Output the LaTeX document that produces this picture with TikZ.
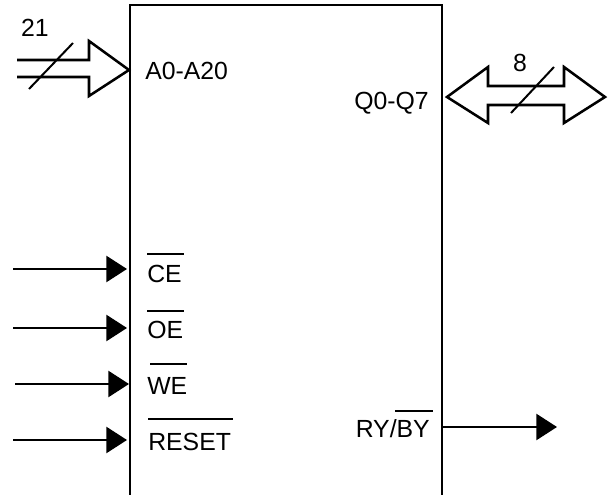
\documentclass[tikz,border=0pt]{standalone}
\usepackage{fontspec}
\setmainfont{Liberation Sans}
\usetikzlibrary{arrows.meta}

\tikzset{
    pinlabel/.style={inner sep=0pt, font=\fontsize{18.6}{22}\selectfont},
    sig/.style={line width=1.9pt, -{Triangle[length=15.5pt, width=19.5pt]}},
    bus/.style={line width=1.9pt, line join=miter},
    slash/.style={line width=1.5pt},
    bar/.style={line width=1.6pt}
}

\begin{document}
\begin{tikzpicture}[x=0.75pt, y=-0.75pt]
        \useasboundingbox (0, 0) rectangle (615, 495);

        % chip outline, runs off the bottom
        \coordinate (chipbl) at (130, 495);
        \coordinate (chiptl) at (130, 5);
        \coordinate (chiptr) at (442, 5);
        \coordinate (chipbr) at (442, 495);
        \draw[line width=1.9pt] (chipbl) to (chiptl) to (chiptr) to (chipbr);

        \node[pinlabel, anchor=base west] (addr) at (145, 80) {A0-A20};
        \node[pinlabel, anchor=base east] (data) at (429, 110) {Q0-Q7};
        \node[pinlabel, anchor=base west] (ce) at (147, 283) {CE};
        \node[pinlabel, anchor=base west] (oe) at (147, 339) {OE};
        \node[pinlabel, anchor=base west] (we) at (147, 395) {WE};
        \node[pinlabel, anchor=base west] (reset) at (148, 451) {RESET};
        \node[pinlabel, anchor=base east] (ryby) at (430, 438) {RY/BY};
        \node[pinlabel, anchor=base] (addrwidth) at (35, 37) {21};
        \node[pinlabel, anchor=base] (datawidth) at (520, 72) {8};

        % bars over the active low pins
        \draw[bar] (147, 254) to (184, 254);
        \draw[bar] (147, 311) to (184, 311);
        \draw[bar] (150, 364) to (187, 364);
        \draw[bar] (148, 419) to (233, 419);
        \draw[bar] (395, 411) to (433, 411);

        % control inputs
        \coordinate (cein) at (13, 269);
        \coordinate (ceend) at (127, 269);
        \coordinate (oein) at (13, 328);
        \coordinate (oeend) at (127, 328);
        \coordinate (wein) at (15, 384);
        \coordinate (weend) at (129, 384);
        \coordinate (resetin) at (13, 440);
        \coordinate (resetend) at (127, 440);
        \coordinate (rybyin) at (443, 427);
        \coordinate (rybyend) at (557, 427);

        \draw[sig] (cein) to (ceend);
        \draw[sig] (oein) to (oeend);
        \draw[sig] (wein) to (weend);
        \draw[sig] (resetin) to (resetend);
        \draw[sig] (rybyin) to (rybyend);

        % address bus
        \draw[bus] (17, 60) -- (89, 60) -- (89, 41) -- (129, 70)
            -- (89, 96) -- (89, 77) -- (17, 77);
        \coordinate (addrlow) at (29, 89);
        \coordinate (addrhigh) at (73, 43);
        \draw[slash] (addrlow) to (addrhigh);

        % data bus
        \draw[bus] (488, 86) -- (488, 67) -- (447, 97) -- (488, 123) -- (488, 105)
            -- (564, 105) -- (564, 123) -- (605, 97) -- (564, 67) -- (564, 86) -- cycle;
        \coordinate (datalow) at (511, 113);
        \coordinate (datahigh) at (554, 67);
        \draw[slash] (datalow) to (datahigh);
    \end{tikzpicture}
\end{document}
